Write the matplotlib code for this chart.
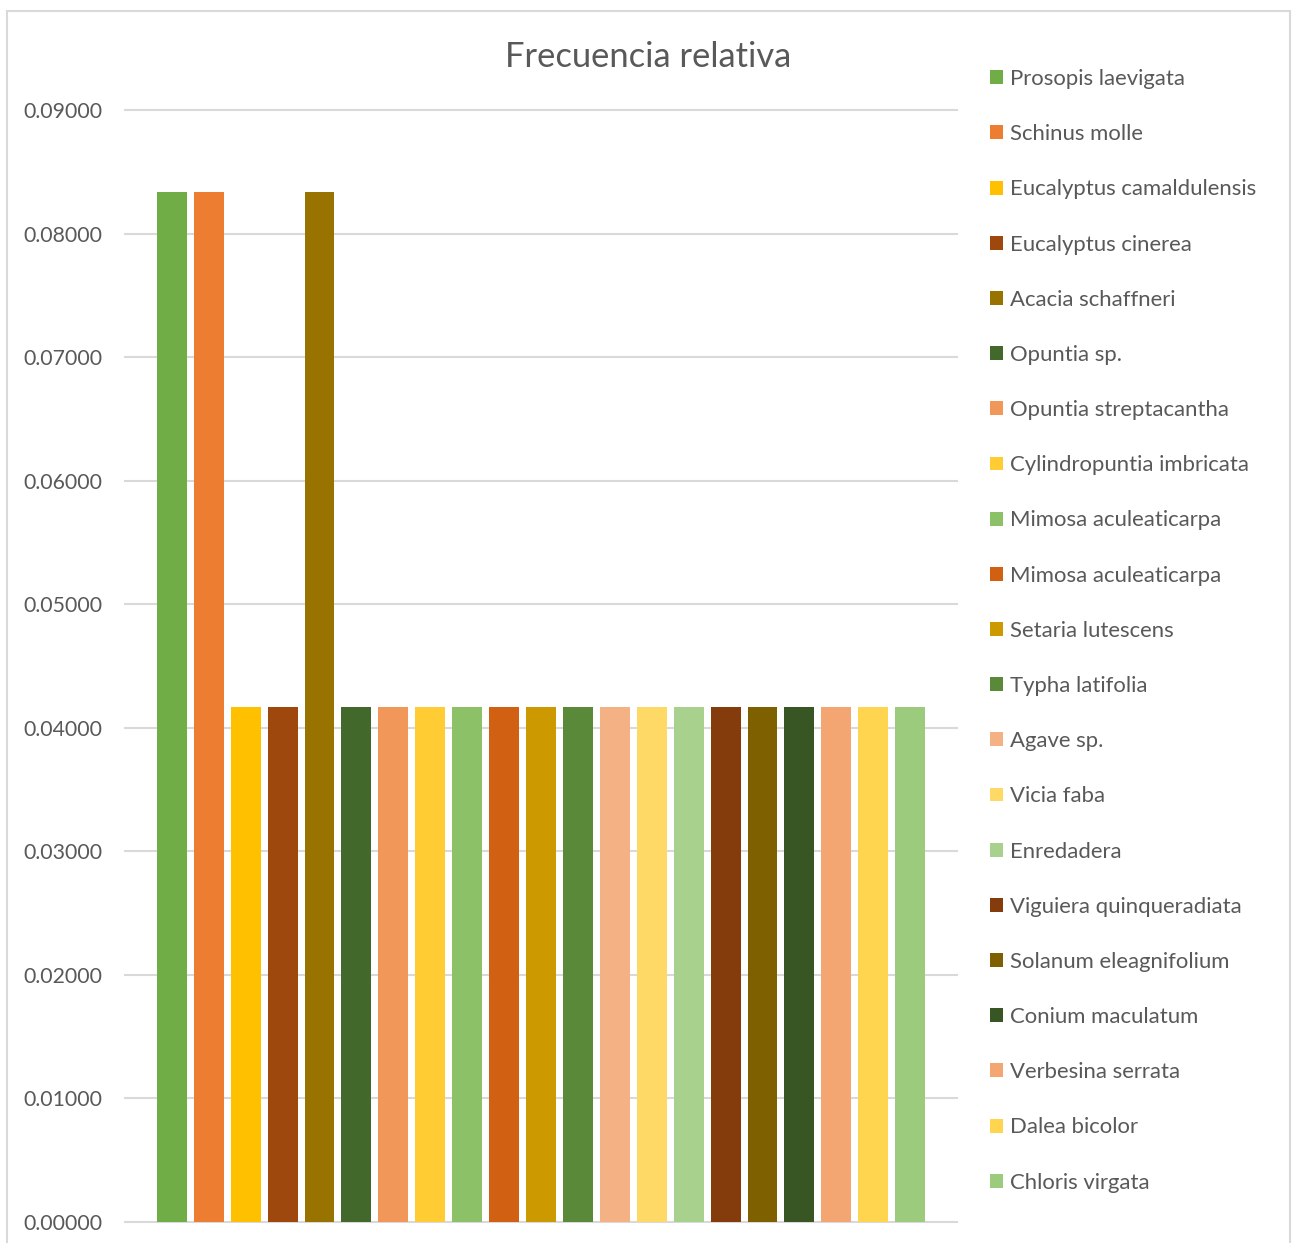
import matplotlib
matplotlib.use("Agg")
import matplotlib.pyplot as plt
from matplotlib.patches import Rectangle, Patch
from matplotlib.ticker import FixedLocator

species = [
    "Prosopis laevigata", "Schinus molle", "Eucalyptus camaldulensis",
    "Eucalyptus cinerea", "Acacia schaffneri", "Opuntia sp.",
    "Opuntia streptacantha", "Cylindropuntia imbricata", "Mimosa aculeaticarpa",
    "Mimosa aculeaticarpa", "Setaria lutescens", "Typha latifolia",
    "Agave sp.", "Vicia faba", "Enredadera", "Viguiera quinqueradiata",
    "Solanum eleagnifolium", "Conium maculatum", "Verbesina serrata",
    "Dalea bicolor", "Chloris virgata",
]
freq_rel = [
    0.08333, 0.08333, 0.04167, 0.04167, 0.08333, 0.04167, 0.04167,
    0.04167, 0.04167, 0.04167, 0.04167, 0.04167, 0.04167, 0.04167,
    0.04167, 0.04167, 0.04167, 0.04167, 0.04167, 0.04167, 0.04167,
]
colors = [
    "#70AD47", "#ED7D31", "#FFC000", "#9E480E", "#997300", "#43682B",
    "#F1975A", "#FFCD33", "#8CC168", "#D26012", "#CC9A00", "#5A8A39",
    "#F4B183", "#FFD966", "#A9D18E", "#843C0C", "#7F6000", "#375623",
    "#F3A672", "#FFD54F", "#9DCB7D",
]
yticks = [0.0, 0.01, 0.02, 0.03, 0.04, 0.05, 0.06, 0.07, 0.08, 0.09]
title = "Frecuencia relativa"

W, H = 1296, 1243
text_color = "#595959"
grid_color = "#D9D9D9"
font = "Lato"

fig = plt.figure(figsize=(W / 100, H / 100), dpi=100)
fig.patch.set_facecolor("white")

# chart frame
fig.patches.append(Rectangle((7 / W, -0.05), (1290 - 7) / W, 1.05 - 11 / H,
                             transform=fig.transFigure, fill=False,
                             edgecolor=grid_color, linewidth=1.5))

y0_px, y9_px = 1222, 110
ax = fig.add_axes([125 / W, (H - y0_px) / H, (957 - 125) / W, (y0_px - y9_px) / H])
ax.set_facecolor("none")

x = list(range(len(species)))
ax.bar(x, freq_rel, width=0.81, color=colors, zorder=3)

ax.set_xlim(-1.27, len(species) - 1 + 1.27)
ax.set_ylim(0, 0.09)
ax.yaxis.set_major_locator(FixedLocator(yticks))
ax.set_yticklabels([f"{v:.5f}" for v in yticks], fontfamily=font,
                   fontsize=15.3, color=text_color)
ax.tick_params(axis="y", length=0, pad=16.5)
ax.set_xticks([])
for s in ax.spines.values():
    s.set_visible(False)
for v in yticks:
    ax.axhline(v, color=grid_color, linewidth=1.5, zorder=1, clip_on=False)

fig.text(648 / W, 1 - 57 / H, title, ha="center", va="center",
         fontfamily=font, fontsize=24.8, color=text_color)

handles = [Patch(facecolor=c, edgecolor="none") for c in colors]
leg = fig.legend(handles, species, loc="upper left",
                 bbox_to_anchor=(990 / W, 1 - 69 / H),
                 frameon=False, prop={"family": font, "size": 15.9},
                 handlelength=0.59, handleheight=0.59, handletextpad=0.32,
                 labelspacing=1.593, borderaxespad=0, borderpad=0)
for t in leg.get_texts():
    t.set_color(text_color)

fig.savefig("out.png", dpi=100)
